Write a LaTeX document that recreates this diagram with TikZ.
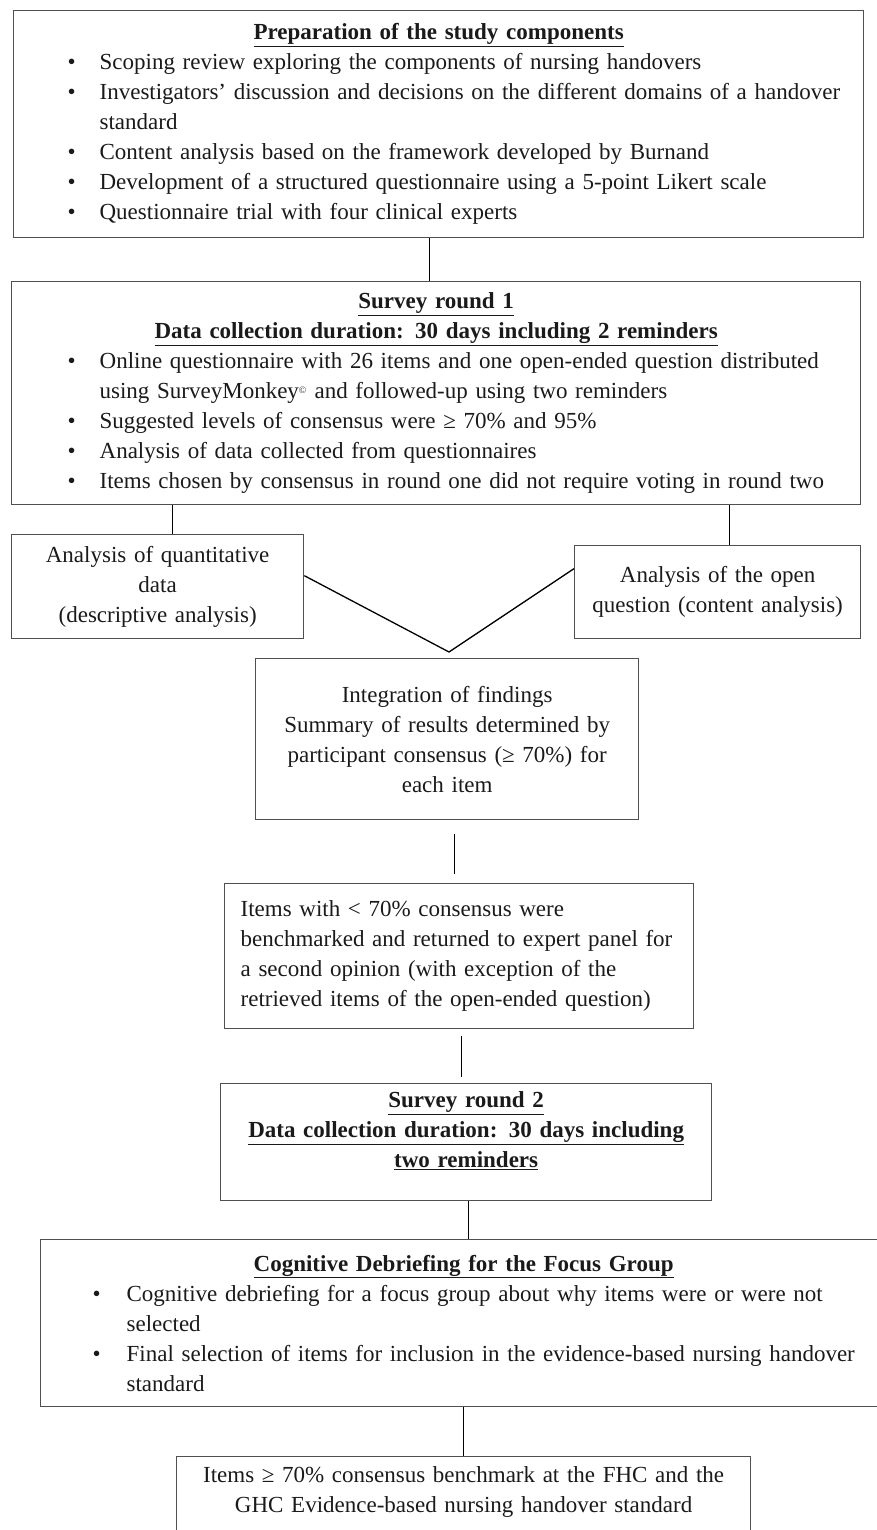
\documentclass[tikz,border=0pt]{standalone}
\usepackage{fontspec}
\setmainfont{Liberation Serif}
\usetikzlibrary{positioning}
\definecolor{fcEdge}{HTML}{505050}
\definecolor{fcInk}{HTML}{1A1A1A}
\tikzset{
  fc diagram/.style={x=1pt, y=-1pt, text=fcInk,
    font=\fontsize{23}{30}\selectfont},
  fc box/.style={draw=fcEdge, line width=1.3pt, anchor=north west,
    inner xsep=0pt, inner ysep=0pt, align=left},
  fc cbox/.style={fc box, align=center},
  fc link/.style={draw=black, line width=1.3pt}
}
\newcommand{\fcbul}{\makebox[32pt][l]{\textbullet}}
\newcommand{\fchead}[1]{\makebox[\linewidth]{\underline{\textbf{#1}}}}

\begin{document}
\begin{tikzpicture}[fc diagram]
\useasboundingbox (0,0) rectangle (876,1530);
% preparation
\node[fc box, text width=850pt, minimum height=227pt] (prep) at (13,10)
  {\fchead{Preparation of the study components}\\
   \hspace*{54pt}\fcbul Scoping review exploring the components of nursing handovers\\
   \hspace*{54pt}\fcbul Investigators’ discussion and decisions on the different domains of a handover\\
   \hspace*{86pt}standard\\
   \hspace*{54pt}\fcbul Content analysis based on the framework developed by Burnand\\
   \hspace*{54pt}\fcbul Development of a structured questionnaire using a 5-point Likert scale\\
   \hspace*{54pt}\fcbul Questionnaire trial with four clinical experts};
% round one
\node[fc box, text width=849pt, minimum height=223pt] (round1) at (11,281)
  {\fchead{Survey round 1}\\
   \fchead{Data collection duration: 30 days including 2 reminders}\\
   \hspace*{56pt}\fcbul Online questionnaire with 26 items and one open-ended question distributed\\
   \hspace*{88pt}using SurveyMonkey{\fontsize{14}{14}\selectfont\textsuperscript{©}} and followed-up using two reminders\\
   \hspace*{56pt}\fcbul Suggested levels of consensus were ≥ 70\% and 95\%\\
   \hspace*{56pt}\fcbul Analysis of data collected from questionnaires\\
   \hspace*{56pt}\fcbul Items chosen by consensus in round one did not require voting in round two};
\node[fc cbox, text width=292pt, minimum height=104pt] (quant) at (11,534)
  {Analysis of quantitative\\data\\(descriptive analysis)};
\node[fc cbox, text width=286pt, minimum height=93pt] (openq) at (574,545)
  {Analysis of the open\\question (content analysis)};
\coordinate (vtip) at (449,652);
\node[fc cbox, text width=383pt, minimum height=161pt] (integ) at (255,658)
  {Integration of findings\\Summary of results determined by\\participant consensus (≥ 70\%) for\\each item};
\node[fc box, text width=469pt, minimum height=145pt] (items) at (224,883)
  {\hspace*{16pt}Items with < 70\% consensus were\\
   \hspace*{16pt}benchmarked and returned to expert panel for\\
   \hspace*{16pt}a second opinion (with exception of the\\
   \hspace*{16pt}retrieved items of the open-ended question)};
% round two
\node[fc cbox, text width=491pt, minimum height=117pt] (round2) at (220,1083)
  {\underline{\textbf{Survey round 2}}\\
   \underline{\textbf{Data collection duration: 30 days including}}\\
   \underline{\textbf{two reminders}}\rule[-25pt]{0pt}{25pt}};
\node[fc box, text width=846pt, minimum height=167pt] (cogn) at (40,1239)
  {\fchead{Cognitive Debriefing for the Focus Group}\\
   \hspace*{52pt}\makebox[34pt][l]{\textbullet}Cognitive debriefing for a focus group about why items were or were not\\
   \hspace*{86pt}selected\\
   \hspace*{52pt}\makebox[34pt][l]{\textbullet}Final selection of items for inclusion in the evidence-based nursing handover\\
   \hspace*{86pt}standard};
\node[fc cbox, text width=574pt, minimum height=100pt] (final) at (176,1456)
  {Items ≥ 70\% consensus benchmark at the FHC and the\\
   GHC Evidence-based nursing handover standard\rule[-35pt]{0pt}{35pt}};
% connectors
\draw[fc link] ([xshift=-9pt]prep.south) -- ([xshift=-9pt]prep.south |- round1.north);
\draw[fc link] ([xshift=15pt]quant.north |- round1.south) -- ([xshift=15pt]quant.north);
\draw[fc link] ([xshift=12pt]openq.north |- round1.south) -- ([xshift=12pt]openq.north);
\draw[fc link] ([yshift=11pt]quant.east) -- (vtip) -- ([yshift=23.5pt]openq.west);
\draw[fc link, shorten <=14pt, shorten >=9pt] ([xshift=7.5pt]integ.south) -- ([xshift=7.5pt]integ.south |- items.north);
\draw[fc link, shorten <=7pt, shorten >=6pt] ([xshift=2.5pt]items.south) -- ([xshift=2.5pt]items.south |- round2.north);
\draw[fc link] ([xshift=2.5pt]round2.south) -- ([xshift=2.5pt]round2.south |- cogn.north);
\draw[fc link] (cogn.south) -- (final.north);
\end{tikzpicture}
\end{document}
